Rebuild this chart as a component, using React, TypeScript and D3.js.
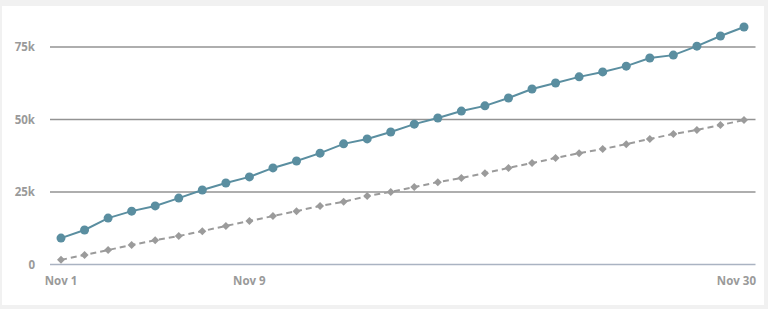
import React from "react";
import * as d3 from "d3";

const days = d3.range(1, 31);
const seriesA = [9.1, 11.9, 16.0, 18.4, 20.2, 22.9, 25.7, 28.1, 30.2, 33.3, 35.7, 38.4, 41.6, 43.3, 45.7, 48.4, 50.5, 52.9, 54.7, 57.4, 60.5, 62.6, 64.7, 66.4, 68.4, 71.2, 72.2, 75.3, 78.8, 81.9].map((v) => v * 1000);
const seriesB = [1.6, 3.3, 5.0, 6.7, 8.4, 9.8, 11.5, 13.3, 15.0, 16.7, 18.4, 20.2, 21.6, 23.6, 25.0, 26.7, 28.4, 29.8, 31.5, 33.3, 35.0, 36.7, 38.4, 39.8, 41.5, 43.3, 45.0, 46.4, 48.1, 49.8].map((v) => v * 1000);
const yTicks = [0, 25000, 50000, 75000];
const yTickLabels = ["0", "25k", "50k", "75k"];
const xTicks = [1, 9, 30];
const xTickLabels = ["Nov 1", "Nov 9", "Nov 30"];

const W = 768;
const H = 309;

export default function App() {
  const x = d3.scaleLinear().domain([1, 30]).range([61, 744]);
  const y = d3.scaleLinear().domain([0, 75000]).range([264.5, 47]);
  const line = d3
    .line<number>()
    .x((_, i) => x(days[i]))
    .y((d) => y(d));
  const diamond = d3.symbol().type(d3.symbolSquare).size(32)();
  const font = "'Open Sans', 'DejaVu Sans', sans-serif";
  return (
    <svg
      width={W}
      height={H}
      style={{ position: "absolute", left: 0, top: 0, display: "block" }}
    >
      <rect x={0} y={0} width={W} height={H} fill="#f1f1f1" />
      <rect x={2} y={6} width={762} height={299} fill="#ffffff" />
      {yTicks.map((t, i) => (
        <g key={t}>
          <line
            x1={50}
            x2={755.5}
            y1={y(t)}
            y2={y(t)}
            stroke={t === 0 ? "#aab3c2" : "#939393"}
            strokeWidth={t === 0 ? 1.5 : 1.6}
          />
          <text
            x={35}
            y={y(t)}
            dy="0.35em"
            textAnchor="end"
            fill="#9a9a9a"
            fontFamily={font}
            fontWeight="bold"
            fontSize={11.5}
          >
            {yTickLabels[i]}
          </text>
        </g>
      ))}
      {xTicks.map((t, i) => (
        <text
          key={t}
          x={i === xTicks.length - 1 ? 756 : x(t)}
          y={285}
          textAnchor={i === xTicks.length - 1 ? "end" : "middle"}
          fill="#9a9a9a"
          fontFamily={font}
          fontWeight="bold"
          fontSize={11.5}
        >
          {xTickLabels[i]}
        </text>
      ))}
      <path
        d={line(seriesB) || ""}
        fill="none"
        stroke="#9b9b9b"
        strokeWidth={2}
        strokeDasharray="6,4"
      />
      {seriesB.map((v, i) => (
        <path
          key={i}
          d={diamond || ""}
          transform={`translate(${x(days[i])},${y(v)}) rotate(45)`}
          fill="#9b9b9b"
        />
      ))}
      <path d={line(seriesA) || ""} fill="none" stroke="#5a8ea0" strokeWidth={2} />
      {seriesA.map((v, i) => (
        <circle key={i} cx={x(days[i])} cy={y(v)} r={4.5} fill="#5a8ea0" />
      ))}
    </svg>
  );
}
